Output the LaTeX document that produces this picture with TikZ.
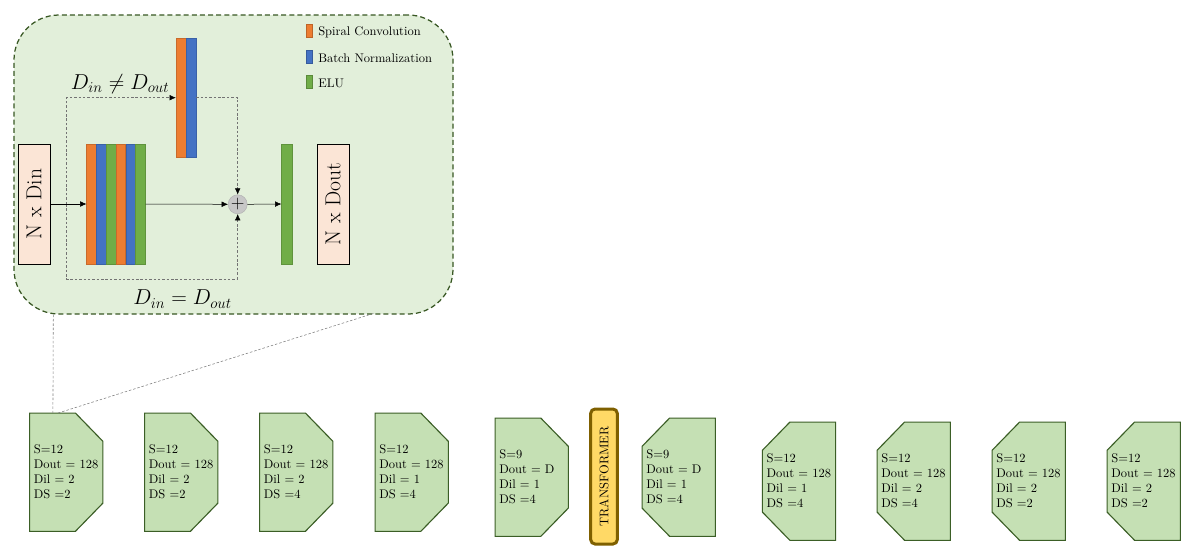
\documentclass[tikz,border=0pt]{standalone}
\usetikzlibrary{arrows.meta,calc}
\definecolor{panelfill}{HTML}{E2EFDA}
\definecolor{paneldraw}{HTML}{385723}
\definecolor{boxfill}{HTML}{C5E0B4}
\definecolor{boxdraw}{HTML}{3B5E26}
\definecolor{cor}{HTML}{ED7D31}
\definecolor{cbl}{HTML}{4472C4}
\definecolor{cgr}{HTML}{70AD47}
\definecolor{peach}{HTML}{FBE5D6}
\definecolor{tfill}{HTML}{FFD966}
\definecolor{tdraw}{HTML}{7F6000}
\tikzset{
  panel/.style={draw=paneldraw,fill=panelfill,line width=1pt,dash pattern=on 4pt off 2.5pt,rounded corners=36pt,minimum width=351.2pt,minimum height=239.2pt,inner sep=0pt},
  iobox/.style={draw=black,fill=peach,line width=0.75pt,minimum width=25.6pt,minimum height=96pt,inner sep=0pt},
  bar/.style={line width=0.5pt,minimum width=7.8pt,minimum height=96pt,inner sep=0pt},
  obar/.style={bar,fill=cor,draw=cor!85!black},
  bbar/.style={bar,fill=cbl,draw=cbl!85!black},
  gbar/.style={bar,fill=cgr,draw=cgr!85!black},
  leg/.style={minimum width=4.8pt,minimum height=10.4pt,inner sep=0pt,line width=0.5pt},
  legtext/.style={anchor=west,inner sep=0pt},
  arr/.style={draw=black,line width=0.4pt,-{Latex[length=5pt,width=4.5pt]}},
  dline/.style={draw=black!55,line width=0.4pt,dash pattern=on 2pt off 1.5pt},
  darr/.style={dline,-{Latex[length=5pt,width=4.5pt,color=black]}},
  boxnode/.style={minimum width=58.2pt,minimum height=94.2pt,inner sep=0pt},
  boxline/.style={draw=boxdraw,fill=boxfill,line width=0.9pt},
  boxtext/.style={anchor=west,align=left,inner sep=0pt},
  zoomline/.style={draw=black!50,line width=0.45pt,dash pattern=on 2pt off 1.5pt},
  trans/.style={draw=tdraw,fill=tfill,line width=2.4pt,rounded corners=3.5pt,minimum width=21.3pt,minimum height=108pt,inner sep=0pt}
}
\newcommand\encbox[4]{%
  \node[boxnode] (#1) at (#2,#3) {};
  \draw[boxline] (#1.north west) -- ([xshift=-22pt]#1.north east) -- ([yshift=-22.6pt]#1.north east)
    -- ([yshift=22.6pt]#1.south east) -- ([xshift=-22pt]#1.south east) -- (#1.south west) -- cycle;
  \node[boxtext] at ([xshift=3.2pt]#1.west) {#4};
}
\newcommand\decbox[4]{%
  \node[boxnode] (#1) at (#2,#3) {};
  \draw[boxline] (#1.north east) -- ([xshift=22pt]#1.north west) -- ([yshift=-22.6pt]#1.north west)
    -- ([yshift=22.6pt]#1.south west) -- ([xshift=22pt]#1.south west) -- (#1.south east) -- cycle;
  \node[boxtext] at ([xshift=3.2pt]#1.west) {#4};
}
\begin{document}
\begin{tikzpicture}[x=0.8pt,y=-0.8pt]
\useasboundingbox (0,0) rectangle (1196,557);
% panel
\node[panel] (panel) at (233.5,164.5) {};
% legend
\node[leg,fill=cor,draw=cor!80!black] (l1) at (309.7,31) {};
\node[legtext] (t1) at (318,32) {Spiral Convolution};
\node[leg,fill=cbl,draw=cbl!80!black] (l2) at (309.7,56.7) {};
\node[legtext] (t2) at (318,58) {Batch Normalization};
\node[leg,fill=cgr,draw=cgr!80!black] (l3) at (309.7,82.2) {};
\node[legtext] (t3) at (318,83.5) {ELU};
% io boxes
\node[iobox] (nin) at (34,204) {\rotatebox{90}{\LARGE N x Din}};
\node[iobox] (nout) at (333.2,204) {\rotatebox{90}{\LARGE N x Dout}};
% stack
\node[obar] (s1) at (91.6,204) {};
\node[bbar] (s2) at (101.4,204) {};
\node[gbar] (s3) at (111.2,204) {};
\node[obar] (s4) at (120.9,204) {};
\node[bbar] (s5) at (130.7,204) {};
\node[gbar] (s6) at (140.5,204) {};
% upper bars
\node[obar,minimum height=95.2pt] (u1) at (181,97.7) {};
\node[bbar,minimum height=95.2pt] (u2) at (191,97.7) {};
% plus
\node[circle,fill=black!22,draw=black!30,minimum size=15.2pt,inner sep=0pt,text=black] (plus) at (237.7,204.3) {\Large$+$};
% elu
\node[gbar,minimum width=8.5pt] (elu) at (287,204) {};
% skip paths
\coordinate (sl) at (66.7,204);
\coordinate (sb) at (237.7,279);
\draw[dline] (sl) |- (sb);
\draw[darr] (sb) -- (plus.south);
\draw[darr] (sl) |- (u1.west);
\draw[darr] (u2.east) -| (plus.north);
% main arrows
\draw[arr] (nin.east) -- (s1.west);
\draw[arr] (s6.east) -- (plus.west);
\draw[arr] (plus.east) -- (elu.west);
% labels
\node (lne) at (120,84) {\fontsize{18.5}{22}\selectfont $D_{in}\neq D_{out}$};
\node (leq) at (182.5,299) {\fontsize{18.5}{22}\selectfont $D_{in}=D_{out}$};
% bottom boxes
\encbox{e1}{66.3}{472.2}{S=12\\Dout = 128\\Dil = 2\\DS =2}
\encbox{e2}{181.3}{472.2}{S=12\\Dout = 128\\Dil = 2\\DS =2}
\encbox{e3}{296.3}{472.2}{S=12\\Dout = 128\\Dil = 2\\DS =4}
\encbox{e4}{411.7}{472.2}{S=12\\Dout = 128\\Dil = 1\\DS =4}
\encbox{e5}{531.7}{477.2}{S=9\\Dout = D\\Dil = 1\\DS =4}
\node[trans] (tr) at (604,476.5) {\rotatebox{90}{TRANSFORMER}};
\decbox{d1}{678.7}{477.2}{S=9\\Dout = D\\Dil = 1\\DS =4}
\decbox{d2}{799}{481.2}{S=12\\Dout = 128\\Dil = 1\\DS =4}
\decbox{d3}{913.7}{481.2}{S=12\\Dout = 128\\Dil = 2\\DS =4}
\decbox{d4}{1028.7}{481.2}{S=12\\Dout = 128\\Dil = 2\\DS =2}
\decbox{d5}{1143.7}{481.2}{S=12\\Dout = 128\\Dil = 2\\DS =2}
% zoom lines
\coordinate (z1) at (53.3,314.5);
\coordinate (z2) at (373.3,313.5);
\draw[zoomline] (z1) -- ([xshift=18.6pt]e1.north west);
\draw[zoomline] (z2) -- ([xshift=22.6pt]e1.north west);
\end{tikzpicture}
\end{document}
